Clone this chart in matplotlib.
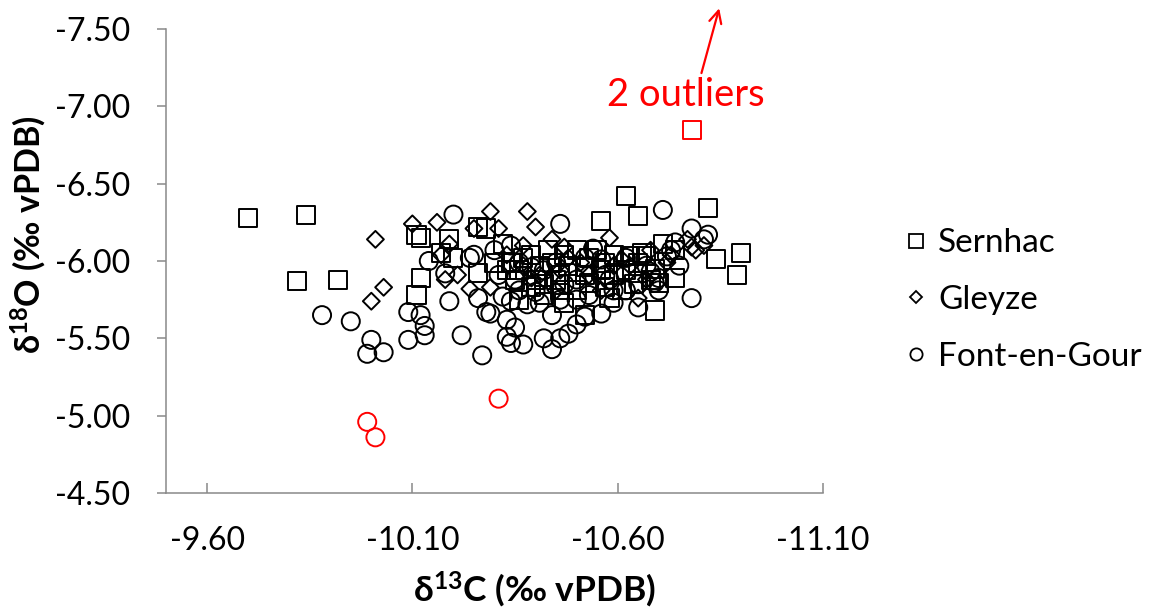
import matplotlib
matplotlib.use('Agg')
import matplotlib.pyplot as plt
from matplotlib.lines import Line2D

plt.rcParams['font.family'] = ['Lato', 'DejaVu Sans']
plt.rcParams['mathtext.fontset'] = 'custom'
plt.rcParams['mathtext.rm'] = 'Lato'
plt.rcParams['mathtext.bf'] = 'Lato:bold'
plt.rcParams['mathtext.it'] = 'Lato:italic'
plt.rcParams['mathtext.fallback'] = 'stixsans'

# ---------------- data ----------------
sernhac_c13 = [-9.70, -9.84, -9.82, -9.92, -10.11, -10.12, -10.19, -10.12, -10.11, -10.17,
               -10.20, -10.26, -10.26, -10.28, -10.32, -10.62, -10.65, -10.56, -10.82, -10.90,
               -10.84, -10.89, -10.69, -10.71, -10.74, -10.74, -10.55, -10.50, -10.59, -10.66,
               -10.35, -10.39, -10.43, -10.47, -10.52, -10.61, -10.57, -10.63, -10.67, -10.69,
               -10.68, -10.70, -10.65, -10.36, -10.41, -10.45, -10.48, -10.52, -10.46, -10.56,
               -10.37, -10.50, -10.42, -10.34, -10.53, -10.59, -10.40, -10.30,
               -10.39, -10.44, -10.47, -10.52, -10.57, -10.62, -10.42, -10.53, -10.58, -10.64,
               -10.36, -10.33, -10.65, -10.46]
sernhac_o18 = [-6.28, -6.30, -5.87, -5.88, -6.17, -6.15, -6.14, -5.89, -5.78, -6.05,
               -6.02, -6.22, -5.92, -6.21, -6.11, -6.42, -6.29, -6.26, -6.34, -6.05,
               -6.01, -5.91, -5.68, -6.11, -5.89, -6.07, -6.07, -6.07, -6.04, -6.05,
               -5.88, -5.83, -6.07, -5.73, -5.65, -5.81, -5.83, -6.03, -6.03, -5.95,
               -5.88, -5.86, -5.92, -5.94, -5.97, -5.88, -5.97, -5.91, -5.81, -5.94,
               -6.02, -5.81, -5.78, -5.99, -6.02, -5.91, -5.88, -5.99,
               -6.04, -5.99, -6.04, -5.96, -5.99, -5.94, -5.85, -5.86, -5.76, -5.85,
               -5.75, -5.94, -5.99, -5.91]

gleyze_c13 = [-10.01, -10.10, -10.16, -10.03, -10.00, -10.19, -10.17, -10.21, -10.18, -10.24,
              -10.25, -10.29, -10.38, -10.40, -10.58, -10.31, -10.47, -10.79, -10.81, -10.77,
              -10.65, -10.29, -10.37, -10.78, -10.33, -10.44, -10.51, -10.61, -10.41, -10.46,
              -10.63, -10.72, -10.73,
              -10.39, -10.48, -10.53, -10.59, -10.68, -10.45, -10.56, -10.67, -10.37]
gleyze_o18 = [-6.14, -6.24, -6.25, -5.83, -5.74, -6.11, -6.04, -5.91, -5.88, -5.82,
              -6.21, -6.32, -6.32, -6.22, -6.15, -6.21, -6.09, -6.07, -6.10, -6.14,
              -5.76, -5.83, -6.10, -6.09, -6.04, -6.14, -5.99, -6.01, -5.91, -5.94,
              -5.97, -5.99, -6.04,
              -5.89, -6.02, -5.91, -5.97, -6.07, -5.81, -5.81, -5.88, -5.97]

font_c13 = [-9.88, -9.95, -10.00, -9.99, -10.03, -10.09, -10.12, -10.13, -10.13, -10.09,
            -10.20, -10.14, -10.19, -10.22, -10.26, -10.27, -10.28, -10.18, -10.25, -10.29,
            -10.33, -10.33, -10.35, -10.34, -10.37, -10.42, -10.44, -10.46, -10.48, -10.50,
            -10.52, -10.56, -10.59, -10.65, -10.44, -10.38, -10.41, -10.34, -10.32, -10.69,
            -10.70, -10.46, -10.71, -10.78, -10.82, -10.81, -10.78, -10.75, -10.74, -10.73,
            -10.72, -10.24, -10.30, -10.34, -10.39, -10.45, -10.50, -10.53, -10.58, -10.62,
            -10.65, -10.31, -10.36, -10.46, -10.56, -10.67,
            -10.36, -10.42, -10.47, -10.52, -10.57, -10.62, -10.40, -10.50, -10.59, -10.68,
            -10.70, -10.35, -10.54]
font_o18 = [-5.65, -5.61, -5.49, -5.40, -5.41, -5.67, -5.65, -5.58, -5.52, -5.49,
            -6.30, -6.00, -5.74, -5.52, -5.76, -5.39, -5.67, -5.92, -6.04, -5.66,
            -5.62, -5.51, -5.57, -5.47, -5.46, -5.50, -5.43, -5.50, -5.53, -5.59,
            -5.64, -5.66, -5.73, -5.70, -5.65, -5.72, -5.73, -5.74, -5.77, -5.86,
            -5.89, -6.24, -6.33, -6.21, -6.17, -6.14, -5.76, -5.97, -6.12, -6.07,
            -6.03, -6.02, -6.07, -6.10, -5.96, -5.99, -5.88, -5.78, -5.88, -5.81,
            -5.85, -5.91, -5.81, -5.75, -6.01, -5.97,
            -5.99, -5.94, -5.85, -6.02, -5.91, -6.02, -5.80, -5.75, -5.81, -5.93,
            -5.81, -5.88, -6.08]

outlier_sq_c13 = [-10.78]
outlier_sq_o18 = [-6.85]
outlier_ci_c13 = [-9.99, -10.01, -10.31]
outlier_ci_o18 = [-4.96, -4.86, -5.11]

series_names = ['Sernhac', 'Gleyze', 'Font-en-Gour']
x_ticks = [-9.60, -10.10, -10.60, -11.10]
y_ticks = [-7.50, -7.00, -6.50, -6.00, -5.50, -5.00, -4.50]

# ---------------- figure ----------------
W, H = 1153, 615
fig = plt.figure(figsize=(W / 100, H / 100), dpi=100)
ax = fig.add_axes([166 / W, 1 - 493 / H, (823 - 166) / W, (493 - 29) / H])

lw = 1.4
ax.scatter(sernhac_c13, sernhac_o18, marker='s', s=13 ** 2, facecolors='none',
           edgecolors='black', linewidths=lw, zorder=3)
ax.scatter(gleyze_c13, gleyze_o18, marker='D', s=8.6 ** 2, facecolors='none',
           edgecolors='black', linewidths=lw, zorder=3)
ax.scatter(font_c13, font_o18, marker='o', s=13 ** 2, facecolors='none',
           edgecolors='black', linewidths=lw, zorder=3)
ax.scatter(outlier_sq_c13, outlier_sq_o18, marker='s', s=13 ** 2, facecolors='none',
           edgecolors='red', linewidths=lw, zorder=3)
ax.scatter(outlier_ci_c13, outlier_ci_o18, marker='o', s=13 ** 2, facecolors='none',
           edgecolors='red', linewidths=lw, zorder=3)

ax.set_xlim(-9.5, -11.1)
ax.set_ylim(-4.5, -7.5)
ax.set_xticks(x_ticks)
ax.set_xticklabels([f'{v:.2f}' for v in x_ticks])
ax.set_yticks(y_ticks)
ax.set_yticklabels([f'{v:.2f}' for v in y_ticks])

gray = '#898989'
for side in ['top', 'right']:
    ax.spines[side].set_visible(False)
for side in ['left', 'bottom']:
    ax.spines[side].set_color(gray)
    ax.spines[side].set_linewidth(1.1)
ax.tick_params(axis='y', direction='out', length=6.5, width=1.1, color=gray,
               labelsize=23, pad=19, labelcolor='black')
ax.tick_params(axis='x', direction='in', length=7, width=1.1, color=gray,
               labelsize=23, pad=24, labelcolor='black')

fig.text(535 / W, 1 - 590 / H, r'δ$^{\mathbf{13}}$C (‰ vPDB)', fontsize=25.5,
         fontweight='bold', ha='center', va='center')
fig.text(29 / W, 1 - 235 / H, r'δ$^{\mathbf{18}}$O (‰ vPDB)', fontsize=24.5,
         fontweight='bold', ha='center', va='center', rotation=90)

# annotation
fig.text(686 / W, 1 - 95 / H, '2 outliers', color='red', fontsize=27.5,
         ha='center', va='center')
ax.annotate('', xy=(0.842, 1.0446), xycoords='axes fraction',
            xytext=(0.815, 0.905), textcoords='axes fraction',
            arrowprops=dict(arrowstyle='->', color='red', lw=1.6, mutation_scale=22,
                            shrinkA=0, shrinkB=0),
            annotation_clip=False)

handles = [
    Line2D([], [], marker='s', linestyle='none', markersize=9.4, markerfacecolor='none',
           markeredgecolor='black', markeredgewidth=1.3),
    Line2D([], [], marker='D', linestyle='none', markersize=6.2, markerfacecolor='none',
           markeredgecolor='black', markeredgewidth=1.3),
    Line2D([], [], marker='o', linestyle='none', markersize=8.8, markerfacecolor='none',
           markeredgecolor='black', markeredgewidth=1.3),
]
ax.legend(handles, series_names, loc='center left', bbox_to_anchor=(903 / W, 1 - 300 / H),
          bbox_transform=fig.transFigure, frameon=False, fontsize=24, handlelength=0.75,
          handletextpad=0.3, labelspacing=0.8, borderpad=0, borderaxespad=0)

fig.savefig('out.png', dpi=100)
